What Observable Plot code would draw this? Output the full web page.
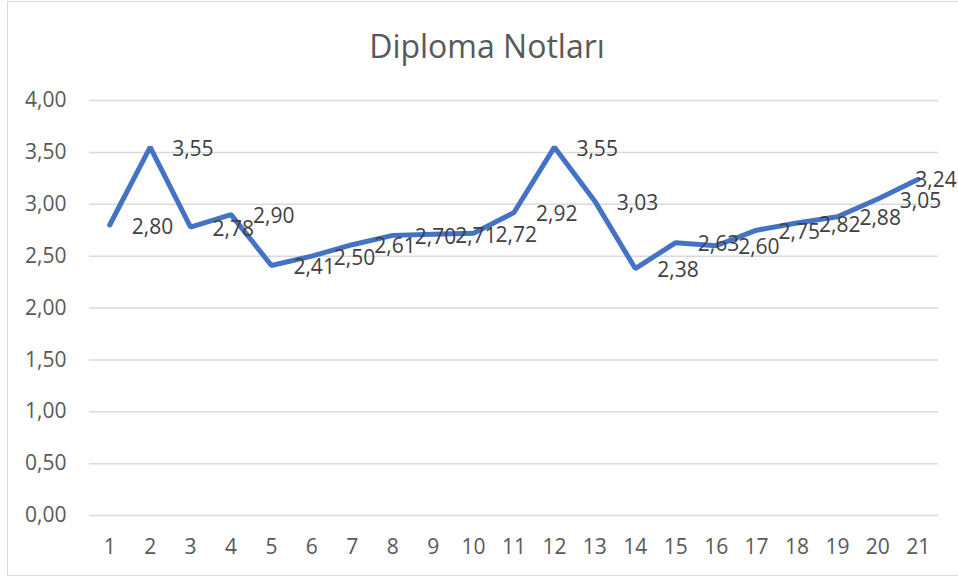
<!DOCTYPE html>
<html>
<head>
<meta charset="utf-8">
<script src="https://cdn.jsdelivr.net/npm/d3@7"></script>
<script src="https://cdn.jsdelivr.net/npm/@observablehq/plot@0.6"></script>
<style>
  html, body { margin: 0; padding: 0; background: #fff; }
  #wrap { position: relative; width: 958px; height: 579px; overflow: hidden; }
  #border { position: absolute; left: 7px; top: 1px; width: 960px; height: 575px;
            border: 1.5px solid #d9d9d9; pointer-events: none; box-sizing: border-box; }
  svg { display: block; }
</style>
</head>
<body>
<div id="wrap"><div id="border"></div></div>
<script>
const title = "Diploma Notları";
const categories = ["1","2","3","4","5","6","7","8","9","10","11","12","13","14","15","16","17","18","19","20","21"];
const values = [2.80, 3.55, 2.78, 2.90, 2.41, 2.50, 2.61, 2.70, 2.71, 2.72, 2.92, 3.55, 3.03, 2.38, 2.63, 2.60, 2.75, 2.82, 2.88, 3.05, 3.24];
const yTicks = [0, 0.5, 1, 1.5, 2, 2.5, 3, 3.5, 4];

const data = categories.map((c, i) => ({cat: c, value: values[i], last: i === categories.length - 1}));
const fmt = v => v.toFixed(2).replace(".", ",");
const font = "'Open Sans', sans-serif";
const fs = 21;

const chart = Plot.plot({
  width: 958,
  height: 579,
  marginLeft: 89,
  marginRight: 20,
  marginTop: 100,
  marginBottom: 64,
  style: {fontFamily: font, fontSize: fs + "px", color: "#595959", background: "transparent"},
  x: {type: "point", domain: categories, padding: 0.5, round: false, label: null},
  y: {domain: [0, 4], label: null},
  marks: [
    Plot.ruleY(yTicks, {stroke: "#d9d9d9", strokeWidth: 1.5}),
    Plot.axisY({ticks: yTicks, tickSize: 0, tickPadding: 23, tickFormat: fmt, fontSize: fs, fill: "#595959"}),
    Plot.axisX({tickSize: 0, tickPadding: 24, fontSize: fs, fill: "#595959"}),
    Plot.line(data, {x: "cat", y: "value", stroke: "#4472C4", strokeWidth: 5, strokeLinejoin: "miter", strokeLinecap: "round"}),
    Plot.text(data.filter(d => !d.last), {x: "cat", y: "value", text: d => fmt(d.value), textAnchor: "start", dx: 22, dy: 2, fontSize: fs, fill: "#404040"}),
    Plot.text(data.filter(d => d.last), {x: "cat", y: "value", text: d => fmt(d.value), textAnchor: "start", dx: -3, dy: 1, fontSize: fs, fill: "#404040"}),
    Plot.text([title], {frameAnchor: "top", dx: -27, dy: -53, text: d => d, fontSize: 32, fill: "#595959", lineAnchor: "middle"})
  ]
});
document.getElementById("wrap").prepend(chart);
</script>
</body>
</html>
